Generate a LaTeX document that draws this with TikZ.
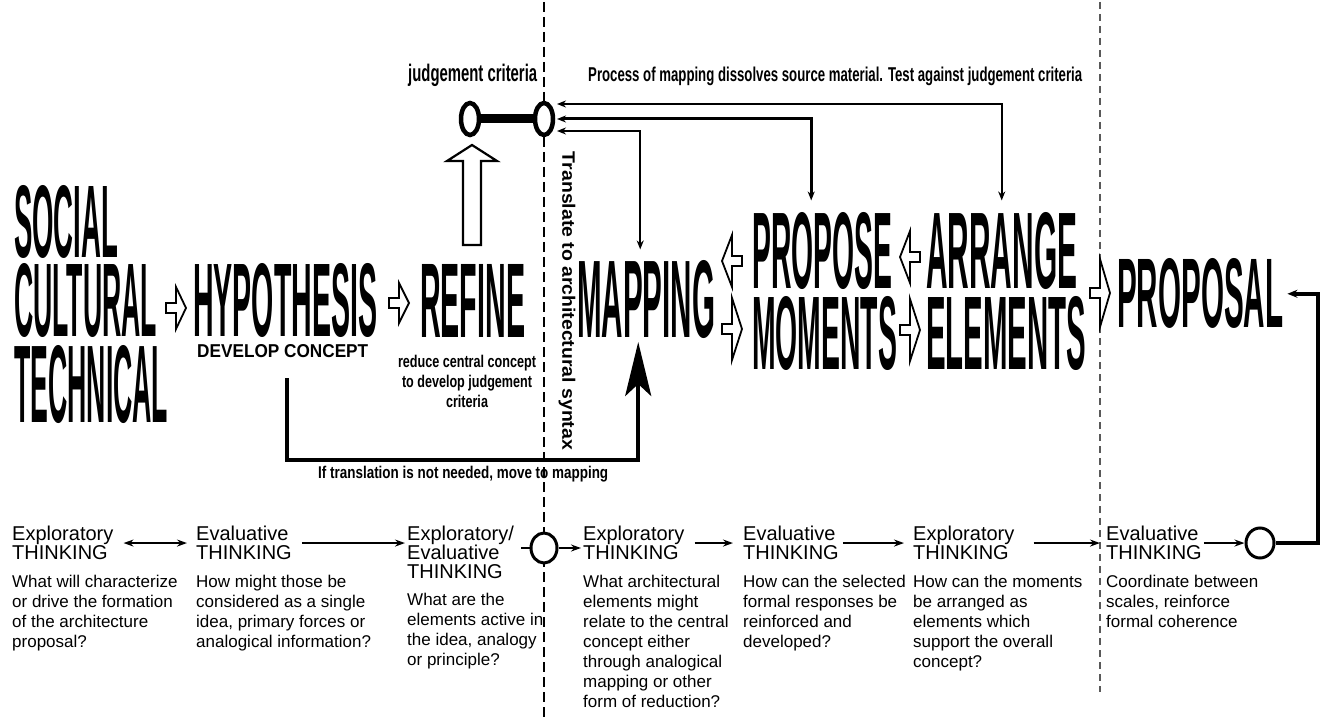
\documentclass[tikz,border=0pt]{standalone}
\usepackage{fontspec}
\setmainfont{Liberation Sans}
\usepackage{graphicx}
\usetikzlibrary{arrows.meta,shapes.geometric}
\newcommand\fitw[2]{\resizebox{#1}{\height}{#2}}
\newcommand\bigw[3]{\resizebox{#1}{#2}{\bfseries #3}}
\newcommand\hollowarrow[4]{\draw[hollow,shift={(#1,#2)},xscale=#4] (-10,-5) -- (0,-5) -- (0,-#3) -- (10,0) -- (0,#3) -- (0,5) -- (-10,5) -- cycle;}
\begin{document}
\begin{tikzpicture}[x=1pt,y=-1pt,
  big/.style={inner sep=0pt, anchor=south west},
  lbl/.style={inner sep=0pt},
  hd/.style={inner sep=0pt, anchor=north west, align=left, font=\fontsize{20}{19}\selectfont},
  bd/.style={inner sep=0pt, anchor=north west, align=left, font=\fontsize{17}{20}\selectfont},
  hollow/.style={draw=black, fill=white, line width=1.8pt, line join=miter},
  jcirc/.style={draw, ellipse, fill=white, line width=4.5pt, minimum width=18pt, minimum height=32pt, inner sep=0pt},
  bcirc/.style={draw, ellipse, fill=white, line width=3pt, minimum width=26pt, minimum height=30pt, inner sep=0pt},
  conn/.style={line width=2pt, {Stealth[length=9pt,width=7pt]}-{Stealth[length=9pt,width=7pt]}},
  flow/.style={line width=2.2pt, -{Stealth[length=10pt,width=7pt]}},
  div1/.style={line width=2.5pt, dash pattern=on 10pt off 5pt},
  div2/.style={line width=1.8pt, dash pattern=on 7pt off 5pt, black!65},
]
\fill[white] (0,0) rectangle (1327,719);
\useasboundingbox (0,0) rectangle (1327,719);
% dividers
\draw[div1] (544,2) -- (544,719);
\draw[div2] (1100,2) -- (1100,692);

% top labels
\node[lbl, anchor=base west] (jlab) at (408,82) {\fitw{129pt}{\fontsize{24}{24}\selectfont\bfseries judgement criteria}};
\node[lbl, anchor=base west] (plab) at (588,82) {\fitw{494pt}{\fontsize{20}{20}\selectfont\bfseries Process of mapping dissolves source material. Test against judgement criteria}};

% judgement circles
\node[jcirc] (jc1) at (470,119) {};
\node[jcirc] (jc2) at (544,119) {};
\draw[line width=9pt] (jc1) -- (jc2);

% hollow up arrow from REFINE
\draw[hollow, line width=2.2pt] (472,145) -- (497,161) -- (481,161) -- (481,245) -- (463,245) -- (463,161) -- (447,161) -- cycle;

% vertical text
\node[lbl, rotate=-90] (trans) at (567,301) {\fitw{298pt}{\fontsize{18}{18}\selectfont\bfseries Translate to architectural syntax}};

% big words
\node[big] (social) at (14,259) {\bigw{104pt}{72pt}{SOCIAL}};
\node[big] (cultural) at (14,338) {\bigw{143pt}{73pt}{CULTURAL}};
\node[big] (technical) at (14,424) {\bigw{154pt}{77pt}{TECHNICAL}};
\node[big] (hypo) at (193,338) {\bigw{184pt}{73pt}{HYPOTHESIS}};
\node[big] (dev) at (197,358) {\bigw{171pt}{13pt}{DEVELOP CONCEPT}};
\node[big] (refine) at (420,338) {\bigw{105pt}{73pt}{REFINE}};
\node[big] (mapping) at (577,339) {\bigw{138pt}{77pt}{MAPPING}};
\node[big] (propose) at (752,290) {\bigw{140pt}{76pt}{PROPOSE}};
\node[big] (moments) at (752,371) {\bigw{145pt}{73pt}{MOMENTS}};
\node[big] (arrange) at (926,290) {\bigw{151pt}{76pt}{ARRANGE}};
\node[big] (elements) at (926,371) {\bigw{160pt}{73pt}{ELEMENTS}};
\node[big] (proposal) at (1117,329) {\bigw{166pt}{69pt}{PROPOSAL}};

% refine caption
\node[lbl, anchor=base] (rc1) at (467,367) {\fitw{138pt}{\fontsize{17}{17}\selectfont\bfseries reduce central concept}};
\node[lbl, anchor=base] (rc2) at (467,387) {\fitw{130pt}{\fontsize{17}{17}\selectfont\bfseries to develop judgement}};
\node[lbl, anchor=base] (rc3) at (467,407) {\fitw{42pt}{\fontsize{17}{17}\selectfont\bfseries criteria}};

% hollow arrows between words
\hollowarrow{176}{308}{21}{1}
\hollowarrow{399}{303}{20}{1}
\hollowarrow{732}{261}{26}{-1}
\hollowarrow{732}{329}{31}{1}
\hollowarrow{910}{257}{26}{-1}
\hollowarrow{910}{330}{31}{1}
\hollowarrow{1100}{293}{34}{1}

% connectors from judgement criteria
\coordinate (t1) at (557,104);
\coordinate (t2) at (557,119);
\coordinate (t3) at (557,131);
\draw[conn, line width=1.8pt, shorten >=12pt] (t1) -| (arrange.north);
\draw[conn, line width=3pt, shorten >=12pt] (t2) -| ([xshift=-11pt]propose.north);
\draw[conn, line width=1.8pt, shorten >=11pt] (t3) -| ([xshift=-6pt]mapping.north);

% loop HYPOTHESIS -> MAPPING
\draw[line width=4pt, -{Stealth[length=54pt,width=26pt,inset=12pt]}] ([xshift=4.5pt,yshift=-20pt]dev.south) |- ([xshift=-8pt,yshift=-121pt]mapping.south) -- ([xshift=-8pt,yshift=-3pt]mapping.south);
\node[lbl, anchor=base west] (iflab) at (318,478) {\fitw{290pt}{\fontsize{17}{17}\selectfont\bfseries If translation is not needed, move to mapping}};

% bottom row
\node[hd] (h1) at (12,526) {Exploratory\\THINKING};
\node[bd] (b1) at (12,575) {What will characterize\\or drive the formation\\of the architecture\\proposal?};
\node[hd] (h2) at (196,526) {Evaluative\\THINKING};
\node[bd] (b2) at (196,575) {How might those be\\considered as a single\\idea, primary forces or\\analogical information?};
\node[hd] (h3) at (407,526) {Exploratory/\\Evaluative\\THINKING};
\node[bd] (b3) at (407,593) {What are the\\elements active in\\the idea, analogy\\or principle?};
\node[hd] (h4) at (583,526) {Exploratory\\THINKING};
\node[bd] (b4) at (583,575) {What architectural\\elements might\\relate to the central\\concept either\\through analogical\\mapping or other\\form of reduction?};
\node[hd] (h5) at (743,526) {Evaluative\\THINKING};
\node[bd] (b5) at (743,575) {How can the selected\\formal responses be\\reinforced and\\developed?};
\node[hd] (h6) at (913,526) {Exploratory\\THINKING};
\node[bd] (b6) at (913,575) {How can the moments\\be arranged as\\elements which\\support the overall\\concept?};
\node[hd] (h7) at (1106,526) {Evaluative\\THINKING};
\node[bd] (b7) at (1106,575) {Coordinate between\\scales, reinforce\\formal coherence};

\node[bcirc] (bc1) at (544,548) {};
\node[bcirc, minimum width=28pt] (bc2) at (1260,543) {};

\draw[flow, {Stealth[length=10pt,width=7pt]}-{Stealth[length=10pt,width=7pt]}, shorten <=10pt, shorten >=9pt] (h1.east) -- (h1.east -| h2.west);
\draw[flow, shorten <=10pt, shorten >=2pt] (h2.east) -- (h2.east -| h3.west);
\draw[line width=2.2pt, shorten >=7pt] (bc1.west) -- (bc1.west -| h3.east);
\draw[flow, shorten >=2pt] (bc1.east) -- (bc1.east -| h4.west);
\draw[flow, shorten <=10pt, shorten >=10pt] (h4.east) -- (h4.east -| h5.west);
\draw[flow, shorten <=4pt, shorten >=9pt] (h5.east) -- (h5.east -| h6.west);
\draw[flow, shorten <=19pt, shorten >=6pt] (h6.east) -- (h6.east -| h7.west);
\draw[flow, shorten <=2pt] (h7.east) -- (h7.east -| bc2.west);
\coordinate (rc) at (1318,0);
\draw[line width=3.5pt, -{Stealth[length=10pt,width=8pt]}, shorten >=4pt] (bc2.east) -- (bc2.east -| rc) |- (proposal.east);
\end{tikzpicture}
\end{document}
